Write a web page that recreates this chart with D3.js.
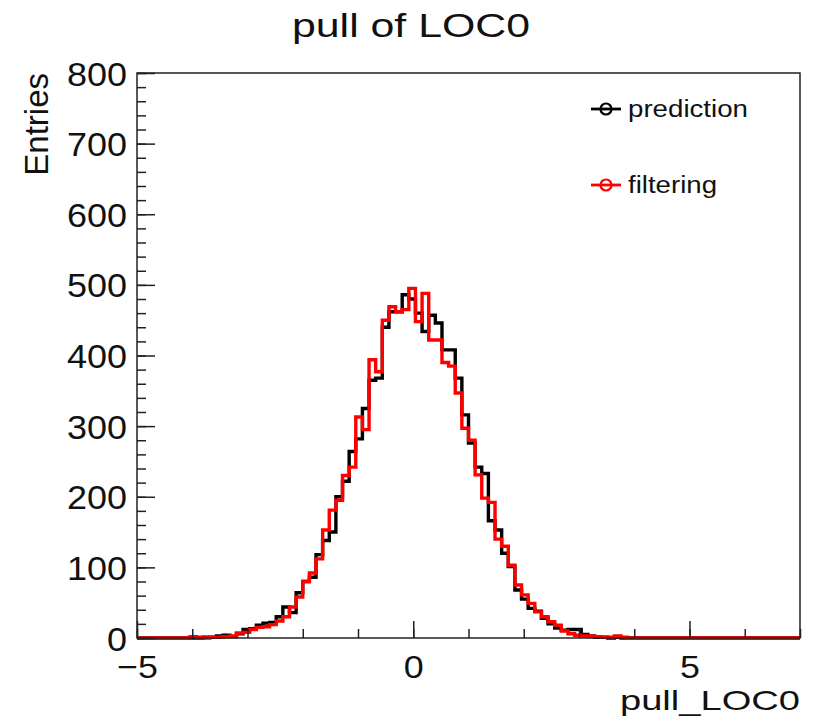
<!DOCTYPE html>
<html>
<head>
<meta charset="utf-8">
<script src="https://cdn.jsdelivr.net/npm/d3@7"></script>
<style>
  html, body { margin: 0; padding: 0; background: #fff; }
  svg { display: block; }
  text { font-family: "Liberation Sans", Arial, Helvetica, sans-serif; fill: #111; }
</style>
</head>
<body>
<svg id="chart" width="815" height="718"></svg>
<script>
// ---- data ----
const xMin = -5, xMax = 7, nBins = 100;
const chartTitle = "pull of LOC0";
const xTitle = "pull_LOC0";
const yTitle = "Entries";
const seriesNames = ["prediction", "filtering"];
const seriesColors = ["#000000", "#ff0000"];
const yTickValues = [0, 100, 200, 300, 400, 500, 600, 700, 800];
const xTickValues = [-5, 0, 5];

// bin contents (100 bins from -5 to 7)
const prediction = [
  0,0,0,0,0,0,0,0,0,0,
  1,1,3,4,2,6,12,13,18,21,
  22,30,44,36,64,80,86,118,138,150,
  200,222,264,282,325,365,368,440,462,462,
  486,480,460,434,457,446,408,408,368,316,
  276,242,233,166,153,120,101,68,55,42,
  38,28,20,14,11,12,12,5,3,1,
  1,0,1,0,0,0,0,0,0,0,
  0,0,0,0,0,0,0,0,0,0,
  0,0,0,0,0,0,0,0,0,0
];
const filtering = [
  0,0,0,0,0,0,0,0,2,1,
  0,1,1,2,3,7,8,12,15,16,
  19,24,30,44,58,80,92,112,153,181,
  195,230,242,313,295,394,377,450,469,462,
  465,495,448,488,422,422,390,385,347,297,
  280,231,198,192,140,130,103,75,61,49,
  37,30,23,18,10,6,4,3,3,2,
  1,1,3,1,0,0,0,0,0,0,
  0,0,0,0,0,0,0,0,0,0,
  0,0,0,0,0,0,0,0,0,0
];

// ---- drawing ----
const svg = d3.select("#chart");
const L = 137, R = 800, T = 73, B = 638;
const x = d3.scaleLinear().domain([xMin, xMax]).range([L, R]);
const y = d3.scaleLinear().domain([0, 800]).range([B, T]);
const bw = (xMax - xMin) / nBins;

function stretch(sel, factor) {
  sel.each(function () {
    const w = this.getComputedTextLength();
    d3.select(this).attr("textLength", w * factor).attr("lengthAdjust", "spacingAndGlyphs");
  });
}
function fitWidth(sel, width) {
  sel.attr("textLength", width).attr("lengthAdjust", "spacingAndGlyphs");
}

// histograms
const line = d3.line().x(d => x(d[0])).y(d => y(d[1])).curve(d3.curveStepAfter);
[prediction, filtering].forEach((vals, k) => {
  const pts = vals.map((v, i) => [xMin + i * bw, v]);
  pts.push([xMax, vals[vals.length - 1]]);
  svg.append("path")
    .attr("d", line(pts))
    .attr("fill", "none")
    .attr("stroke", seriesColors[k])
    .attr("stroke-width", 3.4)
    .attr("stroke-linejoin", "miter");
});

// frame
svg.append("rect").attr("x", L).attr("y", T).attr("width", R - L).attr("height", B - T)
  .attr("fill", "none").attr("stroke", "#222").attr("stroke-width", 1.5);

// y axis
const yMinor = d3.range(0, 801, 20);
const gyMinor = svg.append("g").attr("transform", `translate(${L},0)`)
  .call(d3.axisLeft(y).tickValues(yMinor).tickSize(-9).tickFormat(""));
const gy = svg.append("g").attr("transform", `translate(${L},0)`)
  .call(d3.axisLeft(y).tickValues(yTickValues).tickSize(-18).tickPadding(8));
[gy, gyMinor].forEach(g => {
  g.select(".domain").remove();
  g.selectAll("line").attr("stroke", "#222").attr("stroke-width", 1.5);
});
gy.selectAll("text").attr("font-size", 33).attr("fill", "#111")
  .attr("font-family", "Liberation Sans, Arial, sans-serif")
  .attr("dy", null).attr("y", 12).attr("x", -10);
stretch(gy.selectAll("text"), 1.09);

// x axis
const xMinor = d3.range(-5, 8, 1);
const gxMinor = svg.append("g").attr("transform", `translate(0,${B})`)
  .call(d3.axisBottom(x).tickValues(xMinor).tickSize(-9).tickFormat(""));
const gx = svg.append("g").attr("transform", `translate(0,${B})`)
  .call(d3.axisBottom(x).tickValues(xTickValues).tickSize(-17)
    .tickFormat(d => d < 0 ? "\u2212" + Math.abs(d) : String(d)));
[gx, gxMinor].forEach(g => {
  g.select(".domain").remove();
  g.selectAll("line").attr("stroke", "#222").attr("stroke-width", 1.5);
});
gx.selectAll("text").attr("font-size", 32).attr("fill", "#111")
  .attr("font-family", "Liberation Sans, Arial, sans-serif")
  .attr("dy", null).attr("y", 40);
stretch(gx.selectAll("text"), 1.12);

// title
const tt = svg.append("text").attr("x", 411).attr("y", 37).attr("text-anchor", "middle")
  .attr("font-size", 33).text(chartTitle);
fitWidth(tt, 238);

// x title
const xt = svg.append("text").attr("x", 800).attr("y", 710).attr("text-anchor", "end")
  .attr("font-size", 28).text(xTitle);
fitWidth(xt, 180);

// y title
svg.append("text").attr("transform", "translate(48,73) rotate(-90)")
  .attr("text-anchor", "end").attr("font-size", 33).text(yTitle);

// legend
const legY = [109, 185];
const legW = [120, 89];
seriesNames.forEach((name, k) => {
  const g = svg.append("g");
  g.append("line").attr("x1", 591).attr("x2", 621).attr("y1", legY[k]).attr("y2", legY[k])
    .attr("stroke", seriesColors[k]).attr("stroke-width", 2.8);
  g.append("circle").attr("cx", 606).attr("cy", legY[k]).attr("r", 5.5)
    .attr("fill", "none").attr("stroke", seriesColors[k]).attr("stroke-width", 2.2);
  const t = g.append("text").attr("x", 628).attr("y", legY[k] + 8).attr("font-size", 23)
    .attr("fill", "#222").text(name);
  fitWidth(t, legW[k]);
});
</script>
</body>
</html>
